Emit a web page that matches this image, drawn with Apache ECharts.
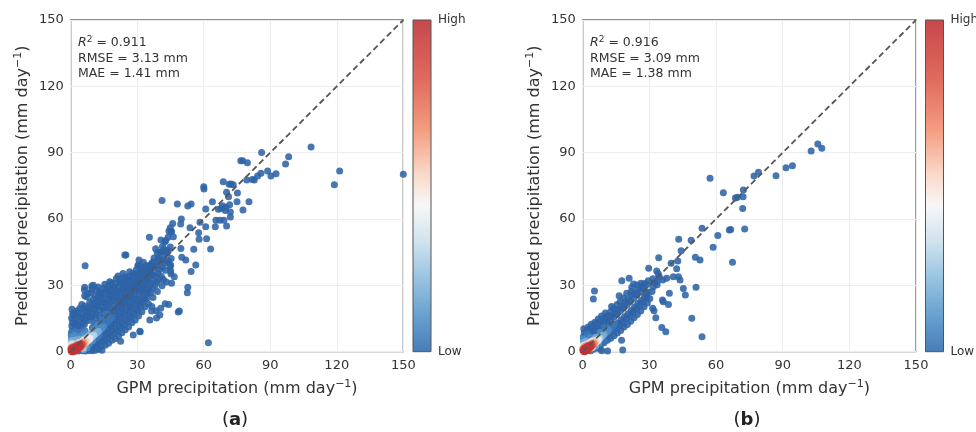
<!DOCTYPE html>
<html>
<head>
<meta charset="utf-8">
<script src="https://cdn.jsdelivr.net/npm/echarts@6/dist/echarts.min.js"></script>
<style>
html,body{margin:0;padding:0;background:#fff;}
#chart{width:976px;height:432px;}
</style>
</head>
<body>
<div id="chart"></div>
<script>
// ---------------- data ----------------
const axisTicks = [0, 30, 60, 90, 120, 150];
const panelLetters = ['a', 'b'];
const statsA = ['0.911', '3.13', '1.41'];   // R2, RMSE, MAE
const statsB = ['0.916', '3.09', '1.38'];
const oneToOne = [[0, 0], [150, 150]];

// panel (a): [GPM, predicted] low-density points
const scatterA = [
[0.4,3.1],[0.7,5.2],[0.3,7.4],[0.6,9.3],[0.5,11.6],[0.8,13.2],[0.4,15.1],[0.9,17.3],[1.2,16.4],[0.6,19.2],
[2.1,0.4],[1.8,6.8],[2.3,8.9],[2.0,10.7],[2.4,12.8],[1.9,14.6],[2.2,16.9],[2.6,18.4],
[3.4,0.3],[3.7,1.2],[3.3,9.8],[3.8,11.9],[3.5,13.7],[3.6,15.8],[3.2,17.5],[4.1,19.6],
[5.2,0.4],[4.8,1.9],[5.1,11.2],[5.4,13.1],[4.9,15.3],[5.3,17.2],[5.6,19.4],[5.0,21.3],
[6.6,0.3],[6.4,1.6],[6.8,2.9],[6.2,12.4],[6.7,14.5],[6.4,16.3],[6.9,18.2],[6.5,20.6],[7.1,24.8],[6.5,38.9],[6.3,29.1],
[8.1,0.5],[7.8,2.2],[8.3,3.8],[8.0,14.1],[8.4,15.9],[7.9,17.8],[8.2,20.1],[8.6,22.4],[7.7,26.2],
[9.6,0.4],[9.3,1.8],[9.8,3.4],[9.5,5.2],[9.4,15.6],[9.9,17.4],[9.2,19.3],[9.7,21.5],[10.1,23.7],[9.5,28.3],[10.2,30.1],
[11.1,0.7],[10.8,2.6],[11.3,4.4],[11.0,6.3],[11.4,17.2],[10.9,19.1],[11.2,21.0],[11.6,23.2],[11.0,25.4],[11.5,27.9],
[12.6,1.1],[12.3,3.2],[12.8,5.3],[12.4,7.4],[12.7,18.8],[12.2,20.7],[12.9,22.6],[12.5,24.7],[13.1,26.9],[12.4,29.3],
[14.1,0.6],[13.8,2.7],[14.3,4.9],[13.9,6.8],[14.4,8.7],[14.0,20.3],[14.5,22.4],[13.7,24.3],[14.2,26.5],[14.6,28.7],
[15.6,2.9],[15.3,5.1],[15.8,7.2],[15.4,9.4],[15.9,11.3],[15.5,22.0],[15.2,24.1],[15.7,26.2],[16.1,28.4],[15.4,30.5],
[17.1,3.8],[16.8,6.1],[17.3,8.2],[16.9,10.4],[17.4,12.5],[17.0,23.6],[17.5,25.7],[16.7,27.8],[17.2,29.9],[17.6,31.6],
[18.6,5.2],[18.3,7.4],[18.8,9.5],[18.4,11.6],[18.9,13.7],[18.5,15.9],[18.2,25.1],[18.7,27.3],[19.1,29.4],[18.4,31.2],
[20.1,5.9],[19.8,8.3],[20.3,10.4],[19.9,12.6],[20.4,14.8],[20.0,16.9],[20.5,26.8],[19.7,28.9],[20.2,30.8],[20.6,33.1],
[21.6,7.1],[21.3,9.4],[21.8,11.7],[21.4,13.9],[21.9,16.1],[21.5,18.2],[21.2,27.4],[21.7,29.6],[22.1,31.7],[21.4,34.2],
[23.1,8.6],[22.8,11.0],[23.3,13.2],[22.9,15.4],[23.4,17.6],[23.0,19.8],[23.5,28.9],[22.7,31.2],[23.2,33.1],[23.6,35.4],[22.8,21.7],
[24.6,9.9],[24.3,12.3],[24.8,14.6],[24.4,16.8],[24.9,19.1],[24.5,21.3],[24.2,23.4],[24.7,30.6],[25.1,32.8],[24.4,43.7],
[26.1,11.2],[25.8,13.7],[26.3,16.0],[25.9,18.2],[26.4,20.5],[26.0,22.7],[26.5,24.8],[25.7,31.9],[26.2,34.1],[26.6,36.2],
[27.6,13.1],[27.3,15.5],[27.8,17.8],[27.4,20.1],[27.9,22.3],[27.5,24.6],[27.2,26.7],[27.7,33.2],[28.1,35.4],[27.4,29.1],
[29.1,14.3],[28.8,17.0],[29.3,19.4],[28.9,21.7],[29.4,24.0],[29.0,26.3],[29.5,28.5],[28.7,30.7],[29.2,34.8],[29.6,37.1],
[30.6,16.2],[30.3,18.8],[30.8,21.3],[30.4,23.6],[30.9,26.0],[30.5,28.4],[30.2,30.6],[30.7,32.9],[31.1,36.3],[30.6,39.2],
[32.1,18.1],[31.8,22.4],[32.3,25.2],[31.9,27.7],[32.4,30.1],[32.0,32.5],[32.5,34.8],[31.7,37.6],
[33.6,20.3],[33.3,24.1],[33.8,26.9],[33.4,29.5],[33.9,31.8],[33.5,34.2],[33.2,36.5],
[35.1,21.6],[34.8,26.4],[35.3,29.1],[34.9,31.7],[35.4,34.0],[35.0,36.6],[35.5,39.0],
[37.1,24.5],[36.8,28.6],[37.3,31.9],[36.9,34.8],[37.4,37.7],[37.0,40.4],[36.6,20.4],
[39.1,27.2],[38.8,31.4],[39.3,35.6],[38.9,38.9],[39.4,42.1],[39.0,44.6],[38.5,18.5],
[41.2,29.8],[40.9,34.1],[41.3,38.3],[41.0,45.2],[41.4,47.6],
[43.1,31.5],[42.8,36.8],[43.4,41.2],[42.9,50.3],[43.5,44.6],[42.6,21.7],
[45.2,35.2],[44.8,38.4],[45.3,42.1],[44.9,47.3],[45.5,54.4],
[10.4,8.9],[9.8,10.8],[10.6,12.9],[11.6,10.2],[11.9,12.4],[11.3,14.6],[13.2,11.8],[13.5,13.9],[12.9,16.2],
[14.8,13.2],[14.6,15.3],[15.0,17.6],[14.9,19.0],[16.3,14.6],[16.5,16.9],[16.2,19.1],[16.6,21.2],
[17.8,14.9],[18.0,17.5],[17.7,19.9],[18.1,22.6],[19.3,18.4],[19.6,20.8],[19.4,23.2],[19.8,24.9],
[20.9,20.1],[21.1,22.6],[20.8,24.8],[21.0,19.6],[22.3,22.8],[22.6,24.9],[22.4,26.8],[22.5,20.3],
[23.9,24.9],[24.1,26.9],[23.8,28.6],[24.0,22.3],[25.4,26.3],[25.6,28.4],[25.3,30.1],[25.5,24.0],
[26.9,28.0],[27.1,30.2],[26.8,31.8],[27.0,25.3],[28.4,29.0],[28.6,32.2],[28.3,33.8],[28.3,27.6],
[30.0,31.4],[29.9,34.6],[30.1,29.8],[31.4,32.7],[31.6,35.0],[31.3,29.1],[31.5,20.5],
[33.0,33.6],[32.9,38.1],[32.8,28.3],[32.7,22.5],[34.4,36.5],[34.6,28.0],[34.3,24.2],[34.2,33.3],
[36.0,38.4],[36.2,31.0],[36.1,26.7],[35.8,35.6],[37.9,39.1],[38.0,34.3],[38.1,29.9],[37.6,42.4],
[40.0,41.0],[40.2,37.2],[39.8,32.6],[40.1,44.9],[42.0,43.4],[42.2,40.0],[41.8,32.7],[44.0,45.5],[44.2,40.6],[43.9,51.8],
[108.4,92.6],[121.3,81.7],[118.9,75.5],[150.0,80.3],[98.3,88.2],[96.9,84.9],[86.1,90.1],[92.6,80.5],[90.3,79.4],[88.8,81.7],
[85.8,80.7],[84.3,79.4],[81.9,77.9],[82.8,77.6],[79.7,85.5],[76.7,86.4],[77.6,86.4],[79.4,77.6],[80.4,67.8],[77.7,64.1],
[75.0,67.8],[75.2,71.8],[73.3,75.5],[71.5,75.7],[72.3,75.8],[70.3,72.1],[68.8,76.9],[71.2,70.1],[71.7,66.5],[70.0,65.3],
[72.0,63.2],[72.0,60.9],[70.3,56.8],[69.1,59.5],[69.7,63.8],[60.0,74.6],[60.1,73.6],[60.9,64.5],[63.9,67.8],[65.5,59.5],
[67.3,59.5],[65.2,56.5],[60.9,56.5],[61.3,51.1],[63.1,46.4],[66.6,64.4],[67.8,64.8],[68.4,66.0],[54.3,66.8],[52.8,65.9],
[48.1,66.8],[41.2,68.4],[49.9,60.0],[49.6,57.7],[53.8,56.1],[58.3,58.5],[57.7,53.8],[57.9,50.8],[55.5,46.3],[56.4,39.2],
[54.3,36.3],[51.9,41.5],[50.1,42.7],[49.7,46.7],[46.3,52.0],[45.2,54.3],[44.3,54.6],[46.0,58.0],[44.9,56.1],[42.5,49.7],
[42.1,46.3],[38.3,46.6],[35.5,51.7],[40.7,50.5],[43.3,45.7],[24.9,43.7],[30.8,41.5],[32.8,40.4],[34.0,38.9],[35.8,36.6],
[36.5,39.9],[39.7,41.8],[41.5,41.5],[45.1,39.2],[45.1,36.6],[46.7,33.9],[45.5,30.9],[52.8,29.1],[52.6,26.7],[49.0,18.4],
[44.2,21.3],[40.6,19.7],[36.5,18.4],[31.3,9.0],[22.5,4.7],[62.1,4.1],[9.5,29.7],[6.2,27.9],[9.0,26.7],[6.3,25.3],
[28.2,7.5],[31.2,9.3],[35.7,14.3],[38.7,15.2],[40.2,16.6],[48.5,18.0],[13.2,26.4],[17.7,27.8],[24.5,33.8],[30.3,39.0]
];
// panel (a): dense core [GPM, predicted, density 0..1]
const coreA = [
[0.5,0.3,1],[0.9,0.6,1],[1.3,0.9,1],[1.7,1.1,1],[2.1,1.4,1],[2.5,1.7,1],[2.9,2.0,1],[3.3,2.2,1],[0.7,1.0,1],[1.2,0.3,1],[1.9,0.7,1],[1.5,1.6,1],[2.6,1.1,1],[3.7,2.5,1],[4.1,2.8,1],
[4.5,3.0,0.9],[4.9,3.3,0.9],[3.3,1.5,0.9],[0.4,1.5,0.9],[2.0,2.1,0.9],[2.9,2.7,0.9],[4.0,2.0,0.9],
[5.3,3.6,0.75],[5.7,3.9,0.75],[4.7,2.4,0.75],[1.0,2.0,0.75],[3.6,3.1,0.75],
[6.2,4.2,0.6],[6.7,4.6,0.6],[5.0,4.0,0.6],[2.5,3.0,0.6],
[7.2,5.0,0.47],[7.8,5.4,0.47],[8.4,5.9,0.47],[5.8,4.8,0.47],[0.5,2.7,0.47],[4.2,3.8,0.47],
[9.0,6.4,0.35],[9.7,6.9,0.35],[10.4,7.4,0.35],[6.7,5.9,0.35],[3.3,4.1,0.35],[0.4,3.8,0.35],[1.5,3.5,0.35],[5.4,1.7,0.35],[7.8,6.7,0.35],
[11.1,8.0,0.25],[11.8,8.6,0.25],[12.5,9.2,0.25],[8.2,7.5,0.25],[9.4,8.5,0.25],[6.6,2.7,0.25],[5.8,1.0,0.25],[0.3,5.0,0.25],[1.3,5.2,0.25],[2.8,5.4,0.25],[4.6,5.6,0.25],
[13.2,9.8,0.15],[14.0,10.5,0.15],[14.8,11.3,0.15],[10.6,10.3,0.15],[12.3,12.1,0.15],[8.4,3.7,0.15],[7.4,1.8,0.15],[9.9,4.9,0.15],[3.5,6.6,0.15],[0.3,6.6,0.15],[1.6,7.4,0.15],[5.4,7.6,0.15],
[16.0,12.7,0.08],[17.2,14.0,0.08],[18.4,15.3,0.08],[14.1,14.6,0.08],[16.1,17.1,0.08],[11.4,6.1,0.08],[12.9,7.3,0.08],[10.6,12.6,0.08],[6.5,9.5,0.08],[4.0,8.8,0.08],[2.0,9.0,0.08],[0.3,8.6,0.08]
];

// panel (b): low-density points
const scatterB = [
[0.4,2.5],[0.6,4.6],[0.3,6.7],[0.7,8.5],[0.5,10.4],
[2.1,0.5],[1.9,5.3],[2.3,7.4],[2.0,9.6],[2.5,11.2],
[3.6,0.4],[3.3,6.2],[3.8,8.3],[3.4,10.5],[3.9,12.4],[4.8,23.8],[5.3,27.4],
[5.1,1.2],[4.8,7.1],[5.3,9.4],[5.0,11.5],[5.5,13.3],
[6.6,2.1],[6.3,8.6],[6.8,10.7],[6.4,12.6],[7.0,14.8],[7.8,1.2],[8.6,0.4],
[8.1,3.2],[7.9,9.8],[8.4,11.9],[8.0,13.8],[8.5,16.2],
[9.6,4.1],[9.3,6.0],[9.8,11.4],[9.4,13.3],[9.9,15.2],[10.2,17.5],
[11.1,5.2],[10.8,7.3],[11.3,12.8],[11.0,14.6],[11.5,16.4],[11.2,0.3],
[12.6,6.1],[12.3,8.4],[12.8,10.2],[12.4,14.1],[12.9,16.0],[12.5,18.1],[13.0,20.4],
[14.1,7.2],[13.8,9.5],[14.3,11.6],[14.0,15.6],[14.5,17.4],[13.9,19.5],
[15.6,8.4],[15.3,10.8],[15.8,13.0],[15.4,17.0],[15.9,19.0],[15.5,21.3],[16.4,25.3],
[17.1,9.6],[16.8,12.1],[17.3,14.4],[17.0,18.5],[17.4,20.6],[16.9,22.7],[17.6,32.1],[18.0,0.8],[17.5,5.2],
[18.6,11.2],[18.3,13.6],[18.8,15.8],[18.4,19.9],[18.9,22.0],[18.5,24.3],[19.8,26.4],
[20.1,12.3],[19.8,14.9],[20.3,17.1],[20.0,21.4],[20.4,23.5],[20.9,33.2],[21.8,25.6],[22.1,29.1],
[21.6,13.8],[21.3,16.4],[21.8,18.6],[21.4,22.8],[21.9,27.2],
[23.1,15.3],[22.8,17.9],[23.3,20.2],[23.0,24.3],[23.5,26.4],[22.9,30.6],
[24.6,16.8],[24.3,19.4],[24.8,21.8],[24.4,25.7],[24.9,28.1],[24.5,30.2],
[26.1,18.4],[25.8,21.0],[26.3,23.3],[26.0,27.2],[26.5,29.5],[26.2,31.0],
[27.6,20.3],[27.3,22.6],[27.8,25.1],[27.4,28.6],[27.9,30.8],[28.5,26.5],
[29.1,22.0],[28.8,24.7],[29.3,27.0],[29.0,30.4],[29.5,32.1],[29.7,37.7],[30.2,24.1],
[31.5,19.6],[32.1,18.5],[31.8,29.4],[32.9,15.4],[31.2,27.2],[31.6,33.0],[32.4,31.2],[33.3,31.7],[33.3,36.5],[34.5,33.9],[34.0,35.3],[33.5,30.3],
[35.6,10.9],[37.4,9.0],[36.3,22.6],[38.6,21.4],[39.0,26.4],[35.9,23.4],[36.0,32.4],[37.8,33.2],[34.2,42.5],[39.8,40.0],
[105.8,93.9],[107.6,92.0],[102.8,90.8],[94.4,84.1],[91.5,83.2],[87.0,79.6],[79.1,81.1],[77.1,79.4],[57.3,78.4],[63.3,71.9],
[72.3,73.1],[72.2,70.1],[69.6,69.8],[68.7,69.5],[72.0,64.8],[72.9,55.5],[66.0,55.0],[66.6,55.3],[53.7,55.8],[60.8,52.5],
[58.7,47.2],[67.4,40.4],[48.8,50.4],[43.2,50.8],[44.3,45.7],[50.7,42.7],[52.8,41.5],[42.8,41.0],[42.3,37.5],[43.1,33.9],
[43.8,32.4],[40.8,33.9],[45.3,28.6],[46.2,25.6],[51.0,29.1],[49.1,15.1],[53.7,6.8]
];
// panel (b): dense core [GPM, predicted, density 0..1]
const coreB = [
[0.5,0.4,1],[0.9,0.7,1],[1.3,1.0,1],[1.7,1.3,1],[2.1,1.6,1],[2.5,1.9,1],[2.9,2.2,1],[0.8,0.3,1],[1.2,1.5,1],[1.8,0.8,1],[3.3,2.5,1],
[3.7,2.8,0.9],[0.4,1.1,0.9],[2.4,1.0,0.9],[2.2,2.4,0.9],[4.1,3.1,0.9],
[4.5,3.4,0.75],[1.2,2.2,0.75],[3.2,1.6,0.75],[4.9,3.7,0.75],
[5.3,4.1,0.6],[5.7,4.4,0.6],[3.2,3.4,0.6],
[6.2,4.8,0.47],[6.7,5.2,0.47],[4.0,4.3,0.47],[0.5,2.6,0.47],
[7.2,5.7,0.35],[7.7,6.1,0.35],[4.8,5.2,0.35],[2.0,3.8,0.35],[4.3,1.8,0.35],
[8.3,6.6,0.25],[8.9,7.2,0.25],[9.5,7.8,0.25],[5.9,6.5,0.25],[0.4,4.2,0.25],[1.5,4.8,0.25],[5.8,2.6,0.25],
[10.2,8.4,0.15],[10.9,9.1,0.15],[11.6,9.8,0.15],[7.8,8.7,0.15],[3.5,6.4,0.15],[0.3,5.8,0.15],[7.3,3.7,0.15],
[12.4,10.6,0.08],[13.3,11.5,0.08],[14.2,12.4,0.08],[9.7,10.9,0.08],[2.0,8.0,0.08],[9.3,5.2,0.08]
];

// ---------------- chart ----------------
const FONT = 'DejaVu Sans';
const TXT = '#333';
function build(sc, core) {
  return sc.map(p => [p[0], p[1], 0]).concat(core).sort((a, b) => a[2] - b[2]);
}
const dataA = build(scatterA, coreA);
const dataB = build(scatterB, coreB);

const grids = [
  {left: 70.7, top: 20, width: 332.6, height: 331.7},
  {left: 582.7, top: 20, width: 333.3, height: 331.7}
];
const nameX = '{n|GPM precipitation (mm day}{s|−1}{n|)}';
const nameY = '{n|Predicted precipitation (mm day}{s|−1}{n|)}';
const nameRich = {
  n: {fontSize: 16, color: TXT, fontFamily: FONT, lineHeight: 20},
  s: {fontSize: 11, color: TXT, fontFamily: FONT, lineHeight: 12, verticalAlign: 'top'}
};
function xAx(i) {
  return {
    gridIndex: i, type: 'value', min: axisTicks[0], max: axisTicks[axisTicks.length - 1],
    interval: axisTicks[1] - axisTicks[0],
    axisLine: {show: false}, axisTick: {show: false},
    axisLabel: {color: TXT, fontSize: 13, fontFamily: FONT, margin: 7},
    splitLine: {show: true, lineStyle: {color: '#ececec', width: 1}},
    name: nameX, nameLocation: 'middle', nameGap: 27,
    nameTextStyle: {rich: nameRich}
  };
}
function yAx(i) {
  return {
    gridIndex: i, type: 'value', min: axisTicks[0], max: axisTicks[axisTicks.length - 1],
    interval: axisTicks[1] - axisTicks[0],
    axisLine: {show: false}, axisTick: {show: false},
    axisLabel: {color: TXT, fontSize: 13, fontFamily: FONT, margin: 7},
    splitLine: {show: true, lineStyle: {color: '#ececec', width: 1}},
    name: nameY, nameLocation: 'middle', nameGap: 38,
    nameTextStyle: {rich: nameRich}
  };
}
const rampColors = ['#2d63a6', '#4283c2', '#78acd7', '#c5def0', '#f4f4f2', '#f8c1a4', '#ec8a6e', '#d5544e', '#c23236'];
function scatterSeries(i, data) {
  return {
    type: 'scatter', xAxisIndex: i, yAxisIndex: i, data: data,
    symbolSize: function (v) { return v[2] >= 0.45 ? 8.5 : 7; },
    itemStyle: {opacity: 0.88}, z: 2, large: false, progressive: 0
  };
}
function lineSeries(i) {
  return {
    type: 'line', xAxisIndex: i, yAxisIndex: i, data: oneToOne, symbol: 'none', z: 5,
    lineStyle: {color: '#555', width: 1.8, type: [6, 3.5]}, silent: true
  };
}
function statsText(st) {
  return '{i|R}{s|2}{n| = ' + st[0] + '}\n{n|RMSE = ' + st[1] + ' mm}\n{n|MAE = ' + st[2] + ' mm}';
}
const statRich = {
  n: {fontSize: 12.5, fill: TXT, fontFamily: FONT, lineHeight: 15.5},
  i: {fontSize: 12.5, fill: TXT, fontFamily: FONT, fontStyle: 'italic', lineHeight: 15.5},
  s: {fontSize: 9, fill: TXT, fontFamily: FONT, lineHeight: 15.5, verticalAlign: 'top'}
};
const cbStops = [
  {offset: 0, color: '#c6484c'}, {offset: 0.18, color: '#e06b5d'}, {offset: 0.33, color: '#f39c80'},
  {offset: 0.46, color: '#f9d7c6'}, {offset: 0.56, color: '#f7f7f7'}, {offset: 0.67, color: '#cfe2ee'},
  {offset: 0.79, color: '#93c0df'}, {offset: 0.91, color: '#619acc'}, {offset: 1, color: '#4a7cb8'}
];
function colorbar(x) {
  return [
    {type: 'rect', shape: {x: x, y: 20, width: 18, height: 331.7},
     style: {fill: new echarts.graphic.LinearGradient(0, 0, 0, 1, cbStops), stroke: '#555', lineWidth: 1}},
    {type: 'text', x: x + 25, y: 20, style: {text: 'High', fontSize: 12, fill: TXT, fontFamily: FONT, verticalAlign: 'middle'}},
    {type: 'text', x: x + 25, y: 352, style: {text: 'Low', fontSize: 12, fill: TXT, fontFamily: FONT, verticalAlign: 'middle'}}
  ];
}
function panelLabel(cx, letter) {
  return {type: 'text', x: cx, y: 420, style: {
    text: '{n|(}{b|' + letter + '}{n|)}', align: 'center', verticalAlign: 'middle',
    rich: {n: {fontSize: 18, fill: '#222', fontFamily: FONT}, b: {fontSize: 18, fill: '#222', fontFamily: FONT, fontWeight: 'bold'}}
  }};
}

const chart = echarts.init(document.getElementById('chart'), null, {renderer: 'canvas'});
chart.setOption({
  backgroundColor: '#fff',
  animation: false,
  grid: grids.map(g => Object.assign({show: true, borderColor: '#6a6a6a', borderWidth: 1.3, backgroundColor: '#fff'}, g)),
  xAxis: [xAx(0), xAx(1)],
  yAxis: [yAx(0), yAx(1)],
  visualMap: [
    {show: false, type: 'continuous', seriesIndex: 0, dimension: 2, min: 0, max: 1, inRange: {color: rampColors}},
    {show: false, type: 'continuous', seriesIndex: 2, dimension: 2, min: 0, max: 1, inRange: {color: rampColors}}
  ],
  series: [scatterSeries(0, dataA), lineSeries(0), scatterSeries(1, dataB), lineSeries(1)],
  graphic: [
    {type: 'text', x: 78, y: 35, z: 10, style: {text: statsText(statsA), rich: statRich}},
    {type: 'text', x: 590, y: 35, z: 10, style: {text: statsText(statsB), rich: statRich}}
  ].concat(colorbar(413), colorbar(925.5), [panelLabel(235, panelLetters[0]), panelLabel(747, panelLetters[1])])
});
</script>
</body>
</html>
